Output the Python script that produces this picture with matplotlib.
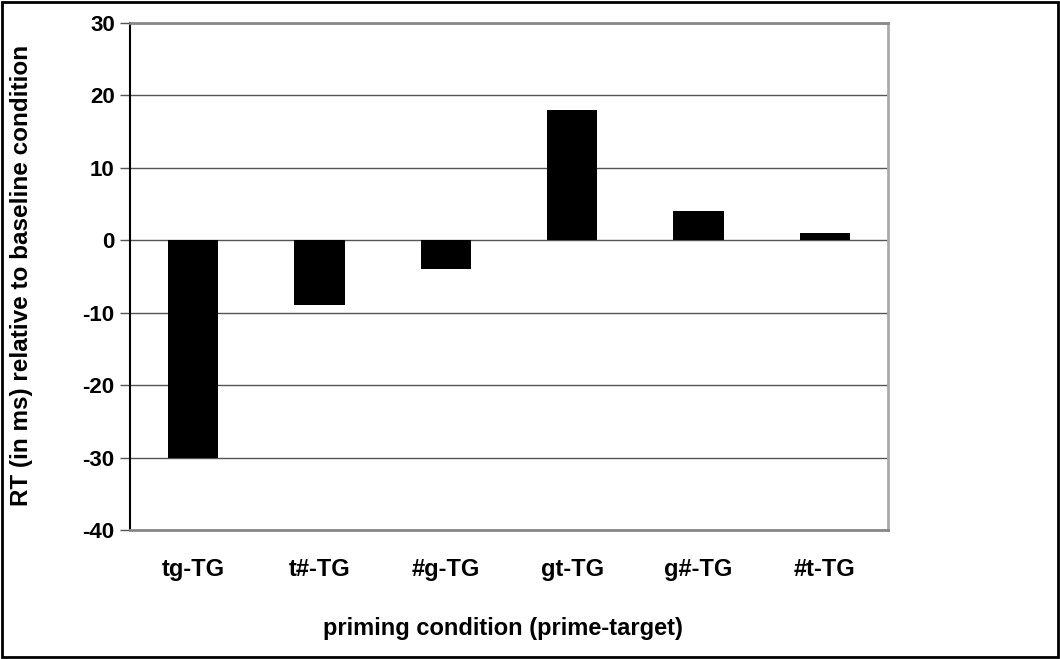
import matplotlib.pyplot as plt
from matplotlib.patches import Rectangle

conditions = ['tg-TG', 't#-TG', '#g-TG', 'gt-TG', 'g#-TG', '#t-TG']
rt_diff = [-30, -9, -4, 18, 4, 1]

plt.rcParams['font.family'] = ['Liberation Sans', 'DejaVu Sans']
plt.rcParams['font.weight'] = 'bold'
plt.rcParams['axes.unicode_minus'] = False

fig = plt.figure(figsize=(10.6, 6.59), dpi=100)
ax = fig.add_axes([130 / 1060, 1 - 530 / 659, 758 / 1060, 507 / 659])

x = range(len(conditions))
ax.bar(x, rt_diff, width=0.4, color='black', zorder=3)

ax.set_xlim(-0.5, len(conditions) - 0.5)
ax.set_ylim(-40, 30)
ax.set_yticks(range(-40, 31, 10))
ax.yaxis.grid(True, color='#555555', linewidth=1, zorder=0)
ax.set_xticks(list(x))
ax.set_xticklabels(conditions, fontsize=17, fontweight='bold')
ax.tick_params(axis='x', length=0, pad=20)
ax.tick_params(axis='y', length=7, width=1, labelsize=16, pad=4, color='#555555')
for lbl in ax.get_yticklabels():
    lbl.set_fontweight('bold')

ax.spines['left'].set_color('black')
ax.spines['left'].set_linewidth(1.5)
ax.spines['bottom'].set_color('#888888')
ax.spines['bottom'].set_linewidth(2)
ax.spines['right'].set_color('#aaaaaa')
ax.spines['right'].set_linewidth(2)
ax.spines['top'].set_color('#888888')
ax.spines['top'].set_linewidth(2)

fig.text(22 / 1060, 1 - 275 / 659, 'RT (in ms) relative to baseline condition',
         rotation=90, ha='center', va='center', fontsize=17.5, fontweight='bold')
fig.text(503 / 1060, 1 - 628 / 659, 'priming condition (prime-target)',
         ha='center', va='center', fontsize=17, fontweight='bold')

fig.patches.append(Rectangle((0.002, 0.003), 0.996, 0.994, transform=fig.transFigure,
                             fill=False, edgecolor='black', linewidth=2))

fig.savefig('out.png', dpi=100)
